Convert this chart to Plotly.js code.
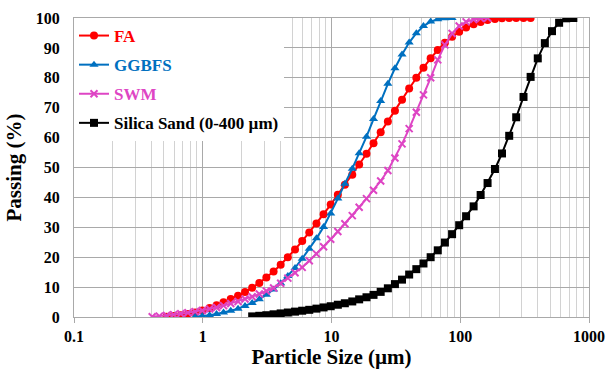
<!DOCTYPE html>
<html>
<head>
<meta charset="utf-8">
<script src="https://cdn.plot.ly/plotly-3.0.1.min.js"></script>
<style>
  html, body { margin: 0; padding: 0; background: #fff; }
  #chart { width: 614px; height: 376px; }
</style>
</head>
<body>
<div id="chart"></div>
<script>
// Laser-diffraction size classes (µm)
const sizeClasses = [0.357, 0.405, 0.460, 0.523, 0.594, 0.675, 0.767, 0.872, 0.991,
  1.13, 1.28, 1.45, 1.65, 1.88, 2.13, 2.42, 2.75, 3.12, 3.55, 4.03, 4.58, 5.21, 5.92, 6.72, 7.64, 8.68, 9.86,
  11.2, 12.7, 14.5, 16.4, 18.7, 21.2, 24.1, 27.4, 31.1, 35.3, 40.1, 45.6, 51.8, 58.9, 66.9, 76.0, 86.4, 98.1,
  111, 127, 144, 163, 186, 211, 240, 272, 310, 352, 400, 454, 516, 586, 666, 756];

// Cumulative passing (%) for each material
const faSizes = sizeClasses.slice(3, 55);
const faPassing = [0.1, 0.3, 0.6, 1.0, 1.5, 2.2, 3.0, 3.9, 4.9, 6.0,
  7.1, 8.4, 9.8, 11.4, 13.2, 15.2, 17.5, 20.0, 22.6, 25.4,
  28.3, 31.3, 34.4, 37.6, 40.9, 44.2, 47.6, 51.0, 54.6, 58.1,
  61.8, 65.4, 69.0, 72.7, 76.4, 80.0, 83.4, 86.5, 89.3, 91.7,
  93.7, 95.4, 96.8, 97.9, 98.7, 99.3, 99.7, 99.9, 100, 100,
  100, 100];

const ggbfsSizes = sizeClasses.slice(7, 44);
const ggbfsPassing = [0.1, 0.3, 0.6, 1.0, 1.5, 2.1, 2.8, 3.7, 4.7, 5.9,
  7.4, 9.2, 11.3, 13.7, 16.4, 19.5, 22.8, 26.3, 30.1, 34.6,
  39.6, 44.6, 49.6, 54.8, 60.3, 66.2, 72.2, 78.0, 83.2, 87.8,
  91.8, 94.9, 97.3, 98.8, 99.6, 99.9, 100];

const swmSizes = sizeClasses.slice(1, 49);
const swmPassing = [0.1, 0.3, 0.5, 0.8, 1.1, 1.4, 1.8, 2.2, 2.7, 3.2,
  3.8, 4.5, 5.2, 6.0, 6.8, 7.7, 8.7, 9.7, 11.3, 13.0,
  14.8, 16.6, 18.8, 21.1, 23.5, 26.0, 28.6, 31.2, 33.9, 36.7,
  39.6, 42.4, 45.5, 49.0, 53.2, 57.9, 63.0, 68.5, 74.3, 80.0,
  86.0, 91.0, 94.8, 97.3, 98.7, 99.5, 99.9, 100];

const sandSizes = sizeClasses.slice(15, 61);
const sandPassing = [0.2, 0.4, 0.6, 0.9, 1.2, 1.5, 1.8, 2.1, 2.4, 2.8,
  3.2, 3.6, 4.1, 4.6, 5.2, 5.9, 6.6, 7.4, 8.4, 9.6,
  11.0, 12.5, 14.2, 16.0, 17.9, 20.0, 22.3, 24.9, 27.7, 30.7,
  33.7, 37.0, 40.8, 44.8, 49.5, 54.7, 60.6, 66.8, 73.6, 80.3,
  86.5, 91.6, 95.6, 98.4, 99.9, 100];

const seriesNames = ['FA', 'GGBFS', 'SWM', 'Silica Sand (0-400 µm)'];
const seriesColors = ['#FF0000', '#0070C0', '#DE45C4', '#000000'];

const xTickVals = [0.1, 1, 10, 100, 1000];
const xTickText = ['0.1', '1', '10', '100', '1000'];
const yTickVals = [0, 10, 20, 30, 40, 50, 60, 70, 80, 90, 100];

// minor grid at 2..9 within each decade
const minorVals = [];
for (let e = -1; e < 3; e++) {
  for (let d = 2; d <= 9; d++) minorVals.push(d * Math.pow(10, e));
}

const font = 'Liberation Serif, Times New Roman, serif';
const bold = s => '<b>' + s + '</b>';

function trace(x, y, idx, symbol, size, extra) {
  const t = {
    x: x, y: y, type: 'scatter', mode: 'lines+markers',
    name: '<span style="color:' + seriesColors[idx] + '"><b>' + seriesNames[idx] + '</b></span>',
    legendgroup: 'g' + idx,
    line: { color: seriesColors[idx], width: 2 },
    marker: { symbol: symbol, size: size, color: seriesColors[idx] }
  };
  return Object.assign(t, extra || {});
}

const data = [
  trace(faSizes, faPassing, 0, 'circle', 8),
  trace(ggbfsSizes, ggbfsPassing, 1, 'triangle-up', 8),
  trace(swmSizes, swmPassing, 2, 'x-thin-open', 7, {
    marker: { symbol: 'x-thin-open', size: 7, color: seriesColors[2], line: { color: seriesColors[2], width: 2 } }
  }),
  trace(sandSizes, sandPassing, 3, 'square', 8)
];

const layout = {
  width: 614, height: 376,
  margin: { l: 74, r: 25, t: 18, b: 59 },
  paper_bgcolor: '#ffffff', plot_bgcolor: '#ffffff',
  font: { family: font, color: '#000' },
  showlegend: true,
  legend: {
    x: 0, y: 1, xanchor: 'left', yanchor: 'top',
    bgcolor: '#ffffff', borderwidth: 0,
    font: { family: font, size: 17 },
    tracegroupgap: 4, itemwidth: 30
  },
  xaxis: {
    type: 'log', range: [-1, Math.log10(1000)],
    tickmode: 'array', tickvals: xTickVals, ticktext: xTickText.map(bold),
    tickfont: { family: font, size: 16, color: '#000' },
    showgrid: true, gridcolor: '#a9a9a9', gridwidth: 1,
    minor: { tickmode: 'array', tickvals: minorVals, showgrid: true, gridcolor: '#d2d2d2', gridwidth: 1, ticks: '' },
    showline: true, linecolor: '#a9a9a9', linewidth: 1, mirror: true,
    ticks: 'outside', ticklen: 5, tickcolor: '#a9a9a9',
    zeroline: false,
    title: { text: bold('Particle Size (µm)'), font: { family: font, size: 21, color: '#000' }, standoff: 2 }
  },
  yaxis: {
    range: [0, 100],
    tickmode: 'array', tickvals: yTickVals, ticktext: yTickVals.map(v => bold(String(v))),
    tickfont: { family: font, size: 16, color: '#000' },
    showgrid: true, gridcolor: '#a9a9a9', gridwidth: 1,
    showline: true, linecolor: '#a9a9a9', linewidth: 1, mirror: true,
    ticks: '', ticklabelstandoff: 10,
    zeroline: false,
    title: { text: bold('Passing (%)'), font: { family: font, size: 21, color: '#000' }, standoff: 8 }
  }
};

Plotly.newPlot('chart', data, layout, { staticPlot: true, displayModeBar: false });
</script>
</body>
</html>
